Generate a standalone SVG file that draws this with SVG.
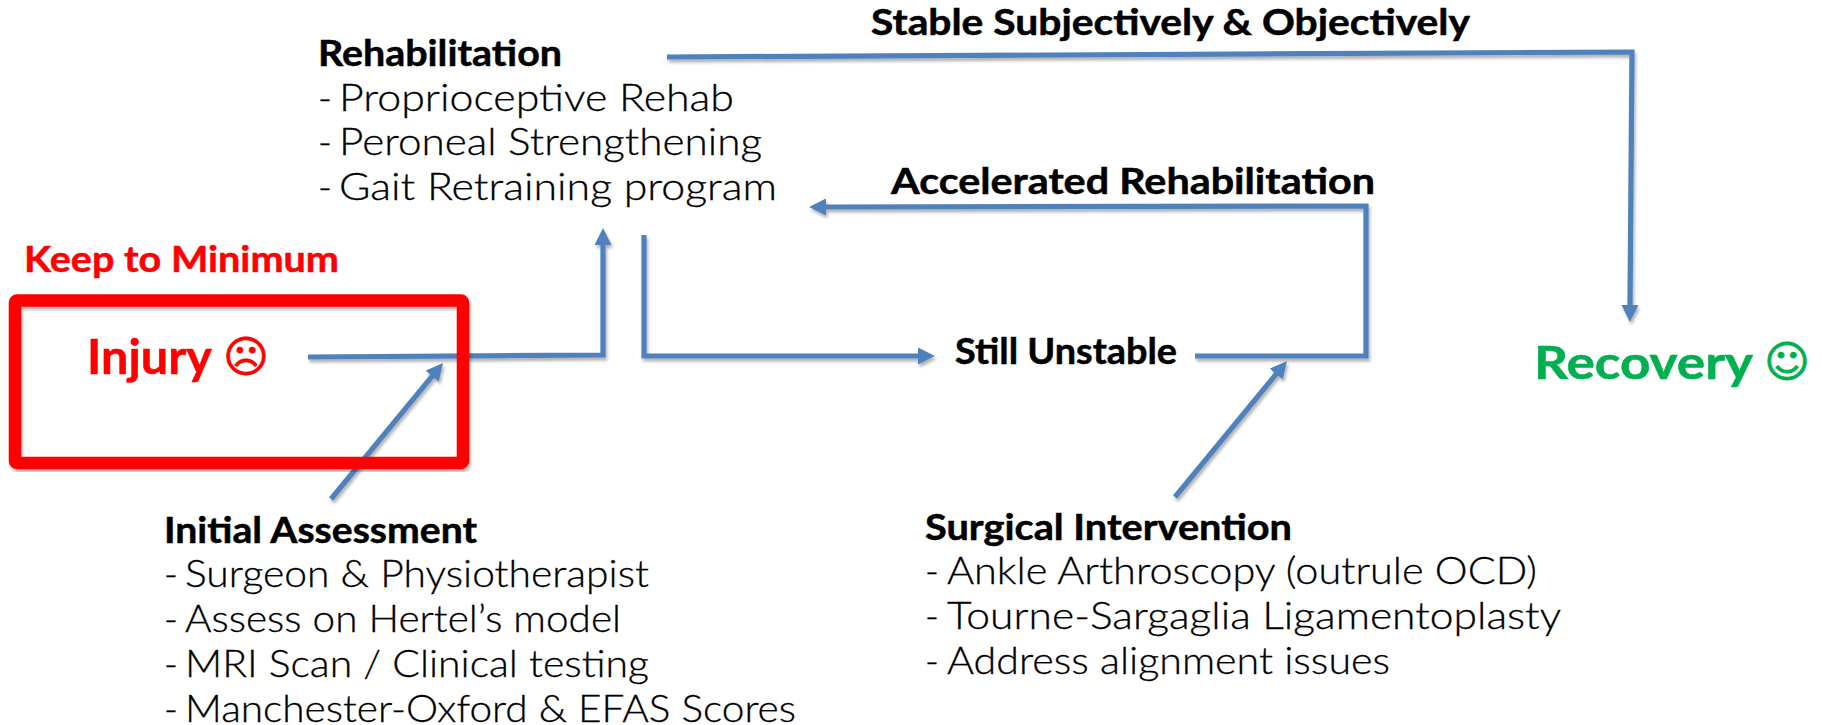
<svg xmlns="http://www.w3.org/2000/svg" width="1822" height="725" viewBox="0 0 1822 725">
<style>
text{font-family:"Lato","Liberation Sans",sans-serif;fill:#000}
.h{font-weight:700;font-size:36px;stroke:#000;stroke-width:.5px}
.b{font-weight:300;font-size:37.500px;stroke:#000;stroke-width:.3px}
.red{fill:#f00;font-weight:700;stroke:#f00;stroke-width:.5px}
.green{fill:#00b050;font-weight:700;stroke:#00b050;stroke-width:.5px}
.emo{font-family:"DejaVu Sans",sans-serif;font-weight:400;font-size:44px;text-anchor:middle;stroke-width:.8px}
.c{fill:none;stroke:#4f81bd;stroke-width:5.200;stroke-linejoin:miter}
</style>
<defs>
<filter id="sh" x="-5%" y="-5%" width="110%" height="110%"><feDropShadow dx="1.5" dy="3" stdDeviation="1.8" flood-color="#000" flood-opacity=".3"/></filter>
<marker id="ah" markerUnits="userSpaceOnUse" markerWidth="18" markerHeight="17" viewBox="0 0 18 17" refX="1" refY="8.500" orient="auto"><path d="M0 0L17 8.500L0 17z" fill="#4f81bd"/></marker>
</defs>
<rect width="1822" height="725" fill="#fff"/>
<g id="connectors" filter="url(#sh)">
<path class="c" marker-end="url(#ah)" d="M308 357L603 355L603 244"/>
<path class="c" marker-end="url(#ah)" d="M644 235L644 356L919 356"/>
<path class="c" marker-end="url(#ah)" d="M331 499L432.800 375.400"/>
<path class="c" marker-end="url(#ah)" d="M667 57L1632 52L1630 306"/>
<path class="c" marker-end="url(#ah)" d="M1195 356L1366 356L1366 206L825 207"/>
<path class="c" marker-end="url(#ah)" d="M1175 497L1276.800 373.300"/>
</g>
<g id="injury-box" filter="url(#sh)"><rect x="15" y="300.500" width="448" height="162.500" rx="2" fill="none" stroke="#f00" stroke-width="12.500" stroke-linejoin="round"/></g>
<g id="keep-to-minimum"><text class="red" x="24" y="272" textLength="315" lengthAdjust="spacingAndGlyphs" style="font-size:36px">Keep to Minimum</text></g>
<g id="injury"><text class="red" x="87" y="374" textLength="125" lengthAdjust="spacingAndGlyphs" style="font-size:48px">Injury</text><text class="red emo" x="246" y="372">☹</text></g>
<g id="rehabilitation">
<text class="h" x="318" y="66" textLength="244" lengthAdjust="spacingAndGlyphs">Rehabilitation</text>
<text class="b" y="111"><tspan x="318">-</tspan> <tspan x="339" textLength="395" lengthAdjust="spacingAndGlyphs">Proprioceptive Rehab</tspan></text>
<text class="b" y="155"><tspan x="318">-</tspan> <tspan x="339" textLength="423" lengthAdjust="spacingAndGlyphs">Peroneal Strengthening</tspan></text>
<text class="b" y="200"><tspan x="318">-</tspan> <tspan x="339" textLength="438" lengthAdjust="spacingAndGlyphs">Gait Retraining program</tspan></text>
</g>
<g id="stable-label"><text class="h" x="871" y="35" textLength="599" lengthAdjust="spacingAndGlyphs">Stable Subjectively &amp; Objectively</text></g>
<g id="accelerated-label"><text class="h" x="891" y="194" textLength="484" lengthAdjust="spacingAndGlyphs">Accelerated Rehabilitation</text></g>
<g id="still-unstable"><text class="h" x="955" y="364" textLength="222" lengthAdjust="spacingAndGlyphs">Still Unstable</text></g>
<g id="recovery"><text class="green" x="1534" y="379" textLength="219" lengthAdjust="spacingAndGlyphs" style="font-size:46px">Recovery</text><text class="green emo" x="1787" y="377">☺</text></g>
<g id="initial-assessment">
<text class="h" x="164" y="543" textLength="313" lengthAdjust="spacingAndGlyphs">Initial Assessment</text>
<text class="b" y="587"><tspan x="164">-</tspan> <tspan x="185" textLength="464" lengthAdjust="spacingAndGlyphs">Surgeon &amp; Physiotherapist</tspan></text>
<text class="b" y="632"><tspan x="164">-</tspan> <tspan x="185" textLength="436" lengthAdjust="spacingAndGlyphs">Assess on Hertel’s model</tspan></text>
<text class="b" y="677"><tspan x="164">-</tspan> <tspan x="185" textLength="464" lengthAdjust="spacingAndGlyphs">MRI Scan / Clinical testing</tspan></text>
<text class="b" y="722"><tspan x="164">-</tspan> <tspan x="185" textLength="611" lengthAdjust="spacingAndGlyphs">Manchester-Oxford &amp; EFAS Scores</tspan></text>
</g>
<g id="surgical-intervention">
<text class="h" x="925" y="540" textLength="367" lengthAdjust="spacingAndGlyphs">Surgical Intervention</text>
<text class="b" y="584"><tspan x="925">-</tspan> <tspan x="947" textLength="590" lengthAdjust="spacingAndGlyphs">Ankle Arthroscopy (outrule OCD)</tspan></text>
<text class="b" y="629"><tspan x="925">-</tspan> <tspan x="947" textLength="614" lengthAdjust="spacingAndGlyphs">Tourne-Sargaglia Ligamentoplasty</tspan></text>
<text class="b" y="674"><tspan x="925">-</tspan> <tspan x="947" textLength="443" lengthAdjust="spacingAndGlyphs">Address alignment issues</tspan></text>
</g>
</svg>
